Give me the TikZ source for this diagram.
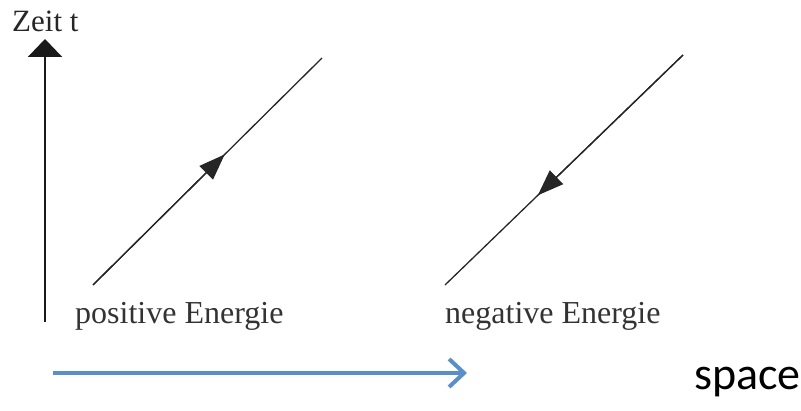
\documentclass[tikz,border=0pt]{standalone}
\usepackage{fontspec}
\setmainfont{Liberation Serif}
\newfontfamily\calib{Carlito}
\usetikzlibrary{arrows.meta,calc}
\definecolor{axisblue}{HTML}{5B8FC7}
\tikzset{
  worldline/.style={line width=1.3pt, black!85},
  mid/.style={-{Triangle[length=26pt,width=19pt]}, line width=1.3pt, black!85},
  lbl/.style={font=\fontsize{32}{34}\selectfont, text=black!80, inner sep=0pt, anchor=base west},
}
\begin{document}
\begin{tikzpicture}[x=1pt,y=-1pt]
\useasboundingbox (0,0) rectangle (801,411);
% time axis
\coordinate (tb) at (45,322);
\coordinate (tt) at (45,39);
\draw[line width=2.2pt, black!90, -{Triangle[length=18pt,width=34pt]}] (tb) -- (tt);
\node[font=\fontsize{31}{33}\selectfont, inner sep=0pt, anchor=base west, text=black!85] (zeit) at (12,32) {Zeit t};
% positive energy line
\coordinate (p1) at (93,285);
\coordinate (p2) at (322,58);
\draw[worldline] (p1) -- (p2);
\draw[mid] (p1) -- ($(p1)!0.575!(p2)$);
% negative energy line
\coordinate (n1) at (445,285);
\coordinate (n2) at (683,55);
\draw[worldline] (n1) -- (n2);
\draw[mid] (n2) -- ($(n2)!0.61!(n1)$);
% labels
\node[lbl] (pos) at (75,324) {positive Energie};
\node[lbl] (neg) at (445,324) {negative Energie};
% space axis
\coordinate (s1) at (53,373);
\coordinate (s2) at (467,373);
\draw[axisblue, line width=4pt, -{Straight Barb[length=15pt,width=28pt,line width=4pt]}] (s1) -- (s2);
\node[font=\calib\fontsize{46}{48}\selectfont, inner sep=0pt, anchor=base west] (space) at (694,390) {space};
\end{tikzpicture}
\end{document}
